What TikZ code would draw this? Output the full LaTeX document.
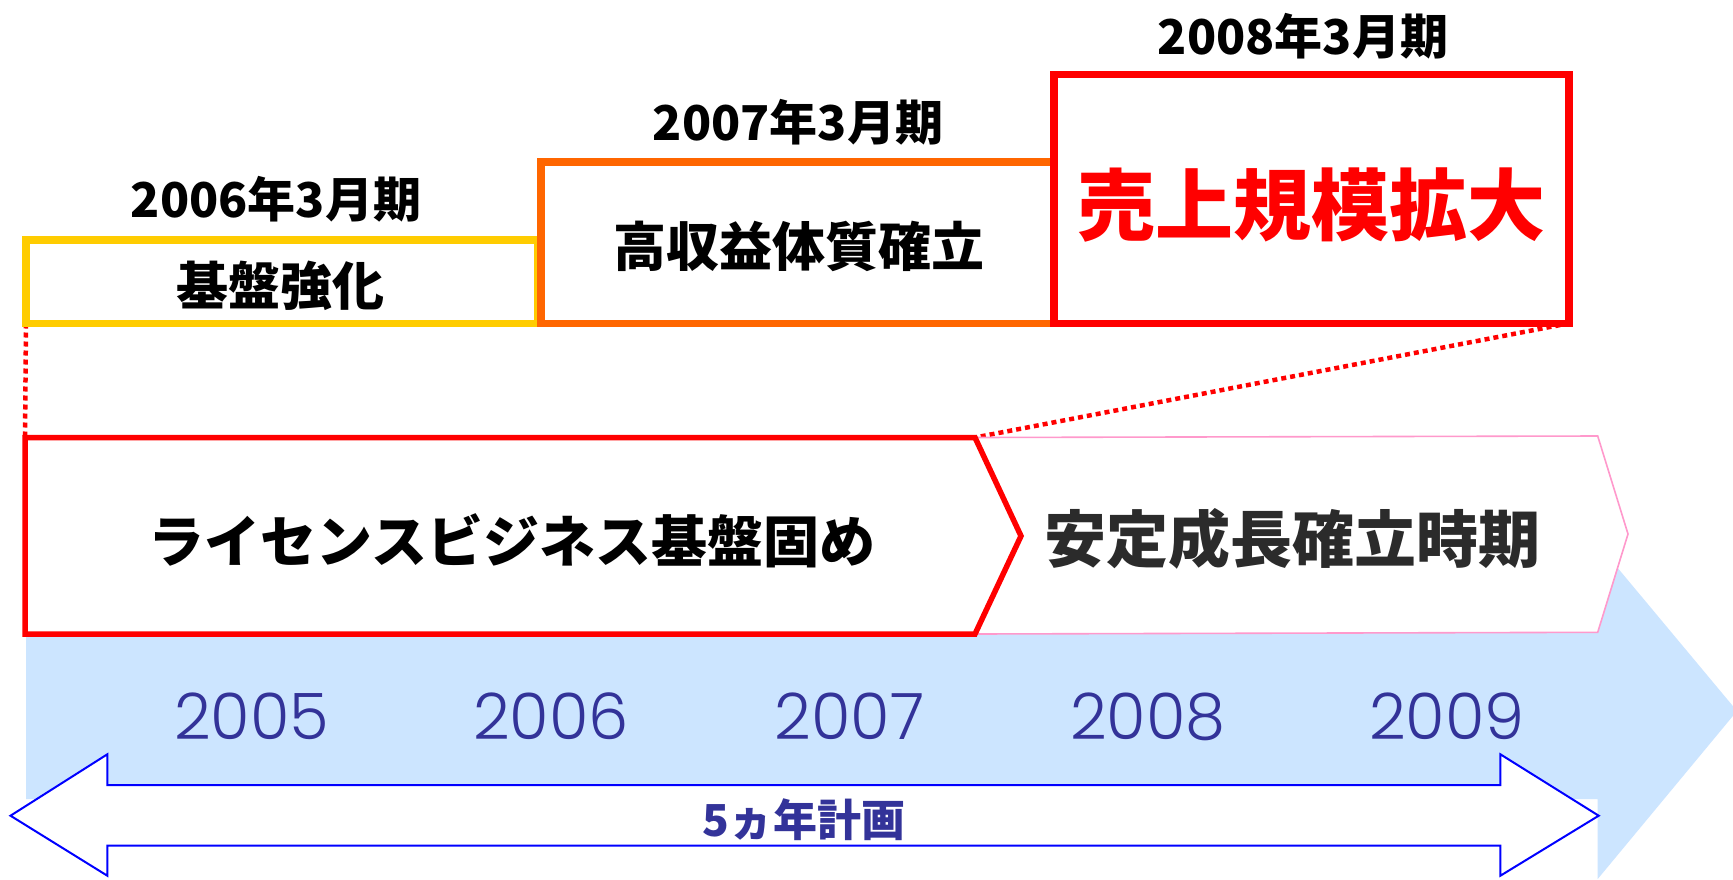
\documentclass[tikz,border=0pt]{standalone}
\usepackage{fontspec}
\newfontfamily\jp{Noto Sans CJK JP}[BoldFont={Noto Sans CJK JP Black}]
\newfontfamily\yr{Poppins Light}
\definecolor{ybox}{HTML}{FFCC00}
\definecolor{obox}{HTML}{FF6600}
\definecolor{rbox}{HTML}{FF0000}
\definecolor{pinkc}{HTML}{FF99CC}
\definecolor{bluebg}{HTML}{CCE5FF}
\definecolor{navy}{HTML}{333399}
\definecolor{arrblue}{HTML}{0000FF}
\definecolor{darkt}{HTML}{2B2B2B}
\tikzset{
  period/.style={draw, fill=white, line width=7.4pt, inner sep=0pt, outer sep=0pt, line join=miter},
  perlabel/.style={font=\jp\bfseries\fontsize{48}{52}\selectfont, text=black, inner sep=0pt},
  dotline/.style={draw=rbox, line width=4.5pt, dash pattern=on 5pt off 4pt},
  yearlbl/.style={font=\yr\fontsize{64}{68}\selectfont, text=navy, inner sep=0pt},
  chev/.style={line width=5.5pt, draw=rbox, fill=white, line join=miter},
}
\begin{document}
\begin{tikzpicture}[x=1pt,y=-1pt]
\useasboundingbox (0,0) rectangle (1733,879);
\clip (0,0) rectangle (1733,879);
\fill[white] (0,0) rectangle (1733,879);

% big light-blue arrow in the background
\fill[bluebg] (26,623) -- (1597.7,623) -- (1597.7,544) -- (1737,711) -- (1597.7,879) -- (1597.7,799) -- (26,799) -- cycle;

% year labels
\node[yearlbl] (y2005) at (251.5,716.5) {2005};
\node[yearlbl] (y2006) at (551,716.5) {2006};
\node[yearlbl] (y2007) at (849.5,716.5) {2007};
\node[yearlbl] (y2008) at (1148,716.5) {2008};
\node[yearlbl] (y2009) at (1447,716.5) {2009};

% five-year double arrow
\draw[draw=arrblue, line width=2pt, fill=white, line join=miter]
  (10.5,815.7) -- (107.3,754.3) -- (107.3,785) -- (1500.4,785) -- (1500.4,754.3)
  -- (1598.7,815.7) -- (1500.4,875.7) -- (1500.4,845.7) -- (107.3,845.7) -- (107.3,875.7) -- cycle;
\node[font=\jp\bfseries\fontsize{44}{48}\selectfont, text=navy, inner sep=0pt] (plan) at (804,820) {5ヵ年計画};

% chevron corner coordinates
\coordinate (c1tl) at (25,437.5);
\coordinate (c1tr) at (975,437.5);
\coordinate (c1tip) at (1021,536);
\coordinate (c1br) at (975,634);
\coordinate (c1bl) at (25,634);
\coordinate (c2tr) at (1597.7,436);
\coordinate (c2tip) at (1628,534);
\coordinate (c2br) at (1597.7,632.3);

% boxes (nodes)
\node[period, draw=ybox, minimum width=512pt, minimum height=83.5pt, anchor=north west] (b1) at (26,240) {};
\node[period, draw=obox, minimum width=513pt, minimum height=161.5pt, anchor=north west] (b2) at (541,162) {};
\node[period, draw=rbox, minimum width=515pt, minimum height=248.8pt, anchor=north west] (b3) at (1054,74.5) {};

% dotted connectors (behind boxes and chevrons)
\path[dotline] (b1.south west) -- (c1tl);
\path[dotline] (b3.south east) -- (c1tr);

% redraw boxes on top of connectors
\node[period, draw=ybox, minimum width=512pt, minimum height=83.5pt, anchor=north west] at (26,240) {};
\node[period, draw=obox, minimum width=513pt, minimum height=161.5pt, anchor=north west] at (541,162) {};
\node[period, draw=rbox, minimum width=515pt, minimum height=248.8pt, anchor=north west] at (1054,74.5) {};

% box texts
\node[font=\jp\bfseries\fontsize{52}{56}\selectfont, inner sep=0pt] (t1) at (280,286) {基盤強化};
\node[font=\jp\bfseries\fontsize{53}{57}\selectfont, inner sep=0pt] (t2) at (799,246) {高収益体質確立};
\node[font=\jp\bfseries\fontsize{78}{82}\selectfont, text=rbox, inner sep=0pt] (t3) at (1311,205) {売上規模拡大};

% period labels
\node[perlabel] (p1) at (276,199) {2006年3月期};
\node[perlabel] (p2) at (798,122) {2007年3月期};
\node[perlabel] (p3) at (1303,36) {2008年3月期};

% chevrons
\draw[line width=1.6pt, draw=pinkc, fill=white, line join=miter]
  (c1tr) -- (c2tr) -- (c2tip) -- (c2br) -- (c1br) -- (c1tip) -- cycle;
\draw[chev] (c1tl) -- (c1tr) -- (c1tip) -- (c1br) -- (c1bl) -- cycle;

\node[font=\jp\bfseries\fontsize{56}{60}\selectfont, inner sep=0pt] (ch1) at (512,541) {ライセンスビジネス基盤固め};
\node[font=\jp\bfseries\fontsize{62}{66}\selectfont, text=darkt, inner sep=0pt] (ch2) at (1292,539) {安定成長確立時期};
\end{tikzpicture}
\end{document}
